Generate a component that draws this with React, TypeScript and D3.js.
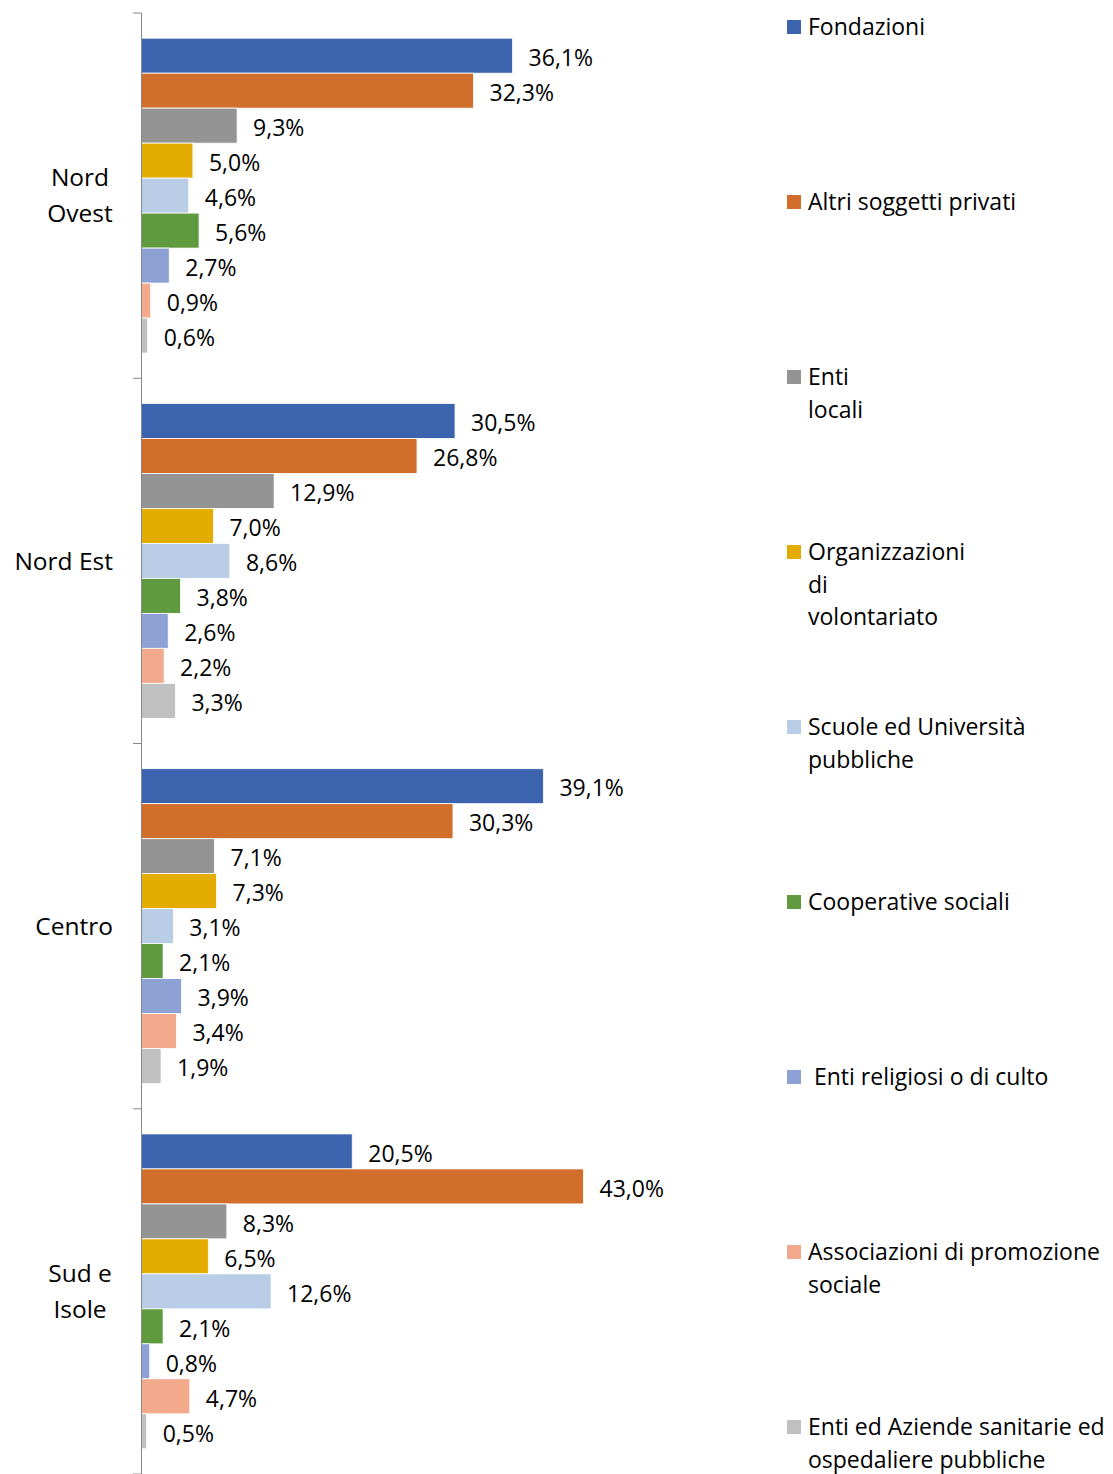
import React from "react";
import * as d3 from "d3";

const regions = ["Nord Ovest", "Nord Est", "Centro", "Sud e Isole"];
const regionLines = [["Nord", "Ovest"], ["Nord Est"], ["Centro"], ["Sud e", "Isole"]];
const seriesNames = [
  "Fondazioni",
  "Altri soggetti privati",
  "Enti locali",
  "Organizzazioni di volontariato",
  "Scuole ed Università pubbliche",
  "Cooperative sociali",
  "Enti religiosi o di culto",
  "Associazioni di promozione sociale",
  "Enti ed Aziende sanitarie ed ospedaliere pubbliche",
];
const legendLines = [
  ["Fondazioni"],
  ["Altri soggetti privati"],
  ["Enti", "locali"],
  ["Organizzazioni", "di", "volontariato"],
  ["Scuole ed Università", "pubbliche"],
  ["Cooperative sociali"],
  [" Enti religiosi o di culto"],
  ["Associazioni di promozione", "sociale"],
  ["Enti ed Aziende sanitarie ed", "ospedaliere pubbliche"],
];
const colors = ["#3c64ae", "#d26e2b", "#949494", "#e4ab00", "#b9cee6", "#5f9a3e", "#8da1d5", "#f2a98c", "#c0c0c0"];

// values[region][series]
const nordOvest = [36.1, 32.3, 9.3, 5.0, 4.6, 5.6, 2.7, 0.9, 0.6];
const nordEst = [30.5, 26.8, 12.9, 7.0, 8.6, 3.8, 2.6, 2.2, 3.3];
const centro = [39.1, 30.3, 7.1, 7.3, 3.1, 2.1, 3.9, 3.4, 1.9];
const sudIsole = [20.5, 43.0, 8.3, 6.5, 12.6, 2.1, 0.8, 4.7, 0.5];
const values = [nordOvest, nordEst, centro, sudIsole];

const FONT = "'Open Sans', sans-serif";

export default function App() {
  const W = 1113;
  const H = 1474;
  const x0 = 141.5;
  const x = d3.scaleLinear().domain([0, 45]).range([x0, x0 + 45 * 10.28]);
  const y = d3.scaleBand<string>().domain(regions).range([13, 1474]).padding(0);
  const yi = d3
    .scaleBand<number>()
    .domain(d3.range(seriesNames.length))
    .range([0, y.bandwidth()])
    .paddingInner(0)
    .paddingOuter(0.72);
  const fmt = (v: number) => v.toFixed(1).replace(".", ",") + "%";

  return (
    <div style={{ position: "absolute", left: 0, top: 0 }}>
      <svg width={W} height={H} style={{ display: "block", fontFamily: FONT }}>
        <rect width={W} height={H} fill="#fff" />
        {regions.map((r, ri) => (
          <g key={r} transform={`translate(0,${y(r)})`}>
            {values[ri].map((v, si) => (
              <g key={si}>
                <rect
                  x={x(0)}
                  y={yi(si)}
                  width={x(v) - x(0)}
                  height={yi.bandwidth()}
                  fill={colors[si]}
                  stroke="#fff"
                  strokeWidth={0.8}
                />
                <text
                  x={x(v) + 16}
                  y={(yi(si) as number) + yi.bandwidth() / 2 + 2}
                  dy="0.36em"
                  fontSize={23}
                  fill="#000"
                >
                  {fmt(v)}
                </text>
              </g>
            ))}
            {regionLines[ri].length === 1 ? (
              <text x={113} y={y.bandwidth() / 2} dy="0.36em" fontSize={24.5} textAnchor="end">
                {regionLines[ri][0]}
              </text>
            ) : (
              regionLines[ri].map((ln, li) => (
                <text
                  key={li}
                  x={80}
                  y={y.bandwidth() / 2 + (li - (regionLines[ri].length - 1) / 2) * 36}
                  dy="0.36em"
                  fontSize={24.5}
                  textAnchor="middle"
                >
                  {ln}
                </text>
              ))
            )}
          </g>
        ))}
        <line x1={x0} x2={x0} y1={13} y2={1474} stroke="#888" strokeWidth={1} />
        {[...regions.map((r) => y(r) as number), 1474].map((t, i) => (
          <line key={i} x1={133} x2={x0} y1={t} y2={t} stroke="#888" strokeWidth={1} />
        ))}
        {legendLines.map((lines, i) => (
          <g key={i} transform={`translate(787,${27 + i * 175})`}>
            <rect x={0} y={-7} width={14} height={14} fill={colors[i]} />
            {lines.map((ln, li) => (
              <text key={li} x={21} y={li * 32.5} dy="0.36em" fontSize={23} style={{ whiteSpace: "pre" }}>
                {ln}
              </text>
            ))}
          </g>
        ))}
      </svg>
    </div>
  );
}
